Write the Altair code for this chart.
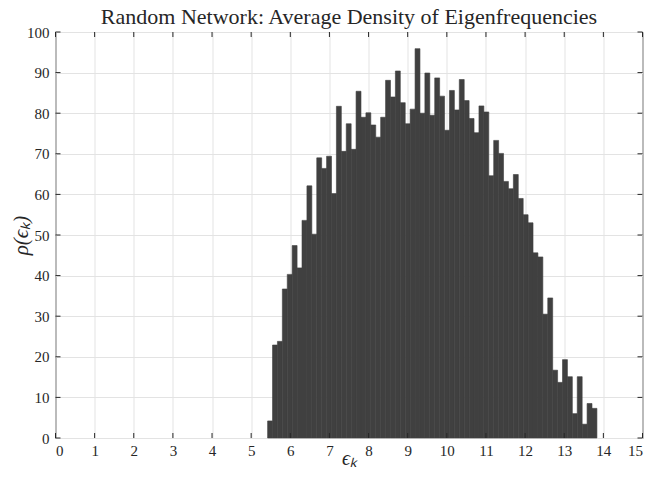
import altair as alt
import pandas as pd

# Histogram counts (67 bins)
counts = [4.2, 22.9, 23.8, 36.7, 40.3, 47.4, 41.9, 53.6, 62.1, 50.2,
          69.0, 66.4, 69.4, 60.2, 81.7, 70.6, 77.4, 71.1, 85.4, 79.0,
          80.1, 77.1, 74.1, 79.0, 88.1, 84.0, 90.4, 82.6, 77.4, 81.0,
          95.9, 80.0, 89.9, 79.5, 88.7, 84.2, 75.8, 85.6, 80.8, 88.3,
          83.1, 78.7, 75.2, 81.8, 80.3, 64.6, 73.3, 70.1, 63.2, 61.4,
          64.9, 59.0, 55.0, 53.0, 45.6, 44.6, 30.5, 34.5, 16.7, 13.7,
          19.3, 15.1, 6.0, 15.1, 3.4, 8.5, 7.3]
bin_start = 5.42
bin_width = 0.1256
x_ticks = list(range(0, 16))
y_ticks = list(range(0, 101, 10))

title_text = "Random Network: Average Density of Eigenfrequencies"
x_title = "ϵₖ"
y_title = "ρ(ϵₖ)"

lo = [bin_start + i * bin_width for i in range(len(counts))]
df = pd.DataFrame({"lo": lo, "hi": [v + bin_width for v in lo],
                   "count": counts, "zero": [0] * len(counts)})

W, H = 587, 406
PAD_L, PAD_T, PAD_R, PAD_B = 47.5, 24, 7.5, 30
FONT = "Liberation Serif"
INK = "#262626"
BAR = "#404040"
xscale = alt.Scale(domain=[0, 15], nice=False, zero=False)
yscale = alt.Scale(domain=[0, 100], nice=False)

x_axis = alt.Axis(values=x_ticks, title=x_title, format="d",
                  titleFontStyle="italic", titleFontSize=20,
                  titleX=W / 2, titleY=26, titleBaseline="alphabetic",
                  titleAlign="center", labelPadding=5)
y_axis = alt.Axis(values=y_ticks, title=y_title, format="d",
                  titleFontStyle="italic", titleFontSize=21,
                  titleX=-34.5, titleY=H / 2, titleAngle=270,
                  titleBaseline="middle", titleAlign="center",
                  labelPadding=6.5)

bars = alt.Chart(df).mark_rect(color=BAR, stroke=BAR, strokeWidth=0.6).encode(
    x=alt.X("lo:Q", scale=xscale, axis=x_axis),
    x2="hi:Q",
    y=alt.Y("count:Q", scale=yscale, axis=y_axis),
    y2="zero:Q",
)

xt = pd.DataFrame({"t": x_ticks})
yt = pd.DataFrame({"t": y_ticks})
tick_style = dict(color=INK, strokeWidth=1)

bottom_ticks = alt.Chart(xt).mark_rule(**tick_style).encode(
    x=alt.X("t:Q", scale=xscale, axis=x_axis), y=alt.value(H), y2=alt.value(H - 5))
top_ticks = alt.Chart(xt).mark_rule(**tick_style).encode(
    x=alt.X("t:Q", scale=xscale, axis=x_axis), y=alt.value(0), y2=alt.value(5))
left_ticks = alt.Chart(yt).mark_rule(**tick_style).encode(
    y=alt.Y("t:Q", scale=yscale, axis=y_axis), x=alt.value(0), x2=alt.value(5))
right_ticks = alt.Chart(yt).mark_rule(**tick_style).encode(
    y=alt.Y("t:Q", scale=yscale, axis=y_axis), x=alt.value(W), x2=alt.value(W - 5))

chart = alt.layer(bars, bottom_ticks, top_ticks, left_ticks, right_ticks).properties(
    width=W, height=H,
    title=alt.TitleParams(title_text, font=FONT, fontSize=22, fontWeight="normal",
                          color=INK, offset=0, dy=4, anchor="middle"),
    autosize=alt.AutoSizeParams(type="none"),
    padding={"left": PAD_L, "top": PAD_T, "right": PAD_R, "bottom": PAD_B},
).configure_view(
    stroke=INK, strokeWidth=1
).configure_axis(
    grid=True, gridColor="#e3e3e3", gridWidth=1,
    domain=False, ticks=False,
    labelFont=FONT, labelFontSize=15, labelColor=INK,
    titleFont=FONT, titleColor=INK, titleFontWeight="normal",
)

chart.save("out.html", embed_options={"renderer": "svg", "actions": False})
